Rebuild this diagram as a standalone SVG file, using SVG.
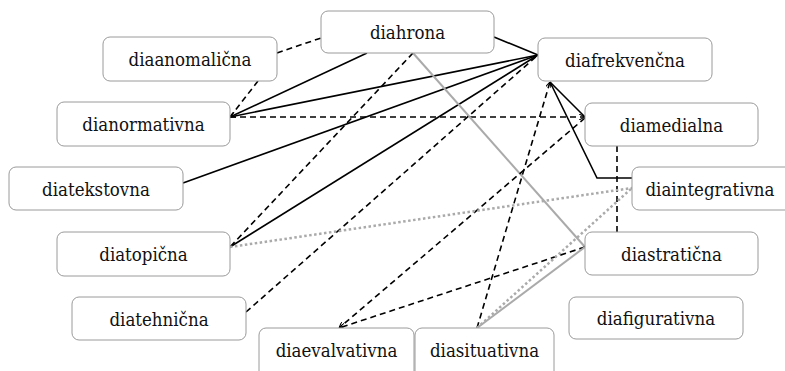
<svg xmlns="http://www.w3.org/2000/svg" width="785" height="371" viewBox="0 0 785 371">
<style>
.box{fill:#fff;stroke:#9a9a9a;stroke-width:1}
.lbl{font-family:"DejaVu Serif Condensed","DejaVu Serif",serif;font-size:18.5px;fill:#111;text-anchor:middle}
.e{fill:none;stroke:#000;stroke-width:1.6}
.d{fill:none;stroke:#000;stroke-width:1.6;stroke-dasharray:6,4}
.g{fill:none;stroke:#aaa;stroke-width:2}
.t{fill:none;stroke:#aaa;stroke-width:2.5;stroke-dasharray:2.5,2.5}
</style>
<defs>
<marker id="arr" viewBox="0 0 10 10" refX="10" refY="5" markerWidth="6" markerHeight="6" markerUnits="userSpaceOnUse" orient="auto">
<path d="M0,0 L10,5 L0,10" fill="none" stroke="#000" stroke-width="1.8"/>
</marker>
</defs>
<rect width="785" height="371" fill="#fff"/>
<g id="connectors">
<line class="d" x1="277" y1="53" x2="321" y2="38"/>
<line class="d" x1="258" y1="81" x2="230" y2="117"/>
<line class="e" x1="367" y1="53" x2="230" y2="117" marker-end="url(#arr)"/>
<line class="e" x1="538" y1="55" x2="230" y2="117"/>
<line class="e" x1="494" y1="37" x2="538" y2="55"/>
<line class="e" x1="538" y1="55" x2="183" y2="183"/>
<line class="e" x1="538" y1="55" x2="230" y2="247"/>
<line class="d" x1="230" y1="117" x2="585" y2="117" marker-end="url(#arr)"/>
<line class="d" x1="413" y1="53" x2="230" y2="247"/>
<line class="g" x1="413" y1="53" x2="585" y2="247"/>
<line class="d" x1="246" y1="312" x2="538" y2="55"/>
<line class="d" x1="585" y1="118" x2="339" y2="328" marker-end="url(#arr)"/>
<line class="d" x1="477" y1="328" x2="550" y2="82" marker-end="url(#arr)"/>
<line class="e" x1="550" y1="82" x2="585" y2="117"/>
<polyline class="e" points="550,82 597,178 632,178"/>
<line class="d" x1="617" y1="146" x2="617" y2="232"/>
<line class="d" x1="585" y1="247" x2="339" y2="328" marker-end="url(#arr)"/>
<line class="t" x1="230" y1="247" x2="632" y2="188"/>
<line class="t" x1="477" y1="328" x2="632" y2="188"/>
<line class="g" x1="477" y1="328" x2="585" y2="247"/>
</g>
<g id="diahrona"><rect class="box" x="321" y="11" width="173" height="42" rx="7"/><text class="lbl" x="407.5" y="39">diahrona</text></g>
<g id="diaanomalicna"><rect class="box" x="103" y="37" width="174" height="44" rx="7"/><text class="lbl" x="190" y="66">diaanomalična</text></g>
<g id="dianormativna"><rect class="box" x="57" y="102" width="173" height="44" rx="7"/><text class="lbl" x="143.5" y="131">dianormativna</text></g>
<g id="diatekstovna"><rect class="box" x="9" y="167" width="174" height="43" rx="7"/><text class="lbl" x="96" y="195.5">diatekstovna</text></g>
<g id="diatopicna"><rect class="box" x="57" y="232" width="173" height="44" rx="7"/><text class="lbl" x="143.5" y="261">diatopična</text></g>
<g id="diatehnicna"><rect class="box" x="72" y="297" width="174" height="43" rx="7"/><text class="lbl" x="159" y="325.5">diatehnična</text></g>
<g id="diaevalvativna"><rect class="box" x="259" y="328" width="155" height="50" rx="7"/><text class="lbl" x="336.5" y="357">diaevalvativna</text></g>
<g id="diasituativna"><rect class="box" x="415" y="328" width="139" height="50" rx="7"/><text class="lbl" x="484.5" y="357">diasituativna</text></g>
<g id="diafrekvencna"><rect class="box" x="538" y="38" width="174" height="43" rx="7"/><text class="lbl" x="625" y="66.5">diafrekvenčna</text></g>
<g id="diamedialna"><rect class="box" x="585" y="103" width="173" height="43" rx="7"/><text class="lbl" x="671.5" y="131.5">diamedialna</text></g>
<g id="diaintegrativna"><rect class="box" x="632" y="167" width="174" height="43" rx="7"/><text class="lbl" x="710" y="195.5">diaintegrativna</text></g>
<g id="diastraticna"><rect class="box" x="585" y="232" width="173" height="43" rx="7"/><text class="lbl" x="671.5" y="260.5">diastratična</text></g>
<g id="diafigurativna"><rect class="box" x="569" y="297" width="174" height="42" rx="7"/><text class="lbl" x="656" y="325">diafigurativna</text></g>
</svg>
